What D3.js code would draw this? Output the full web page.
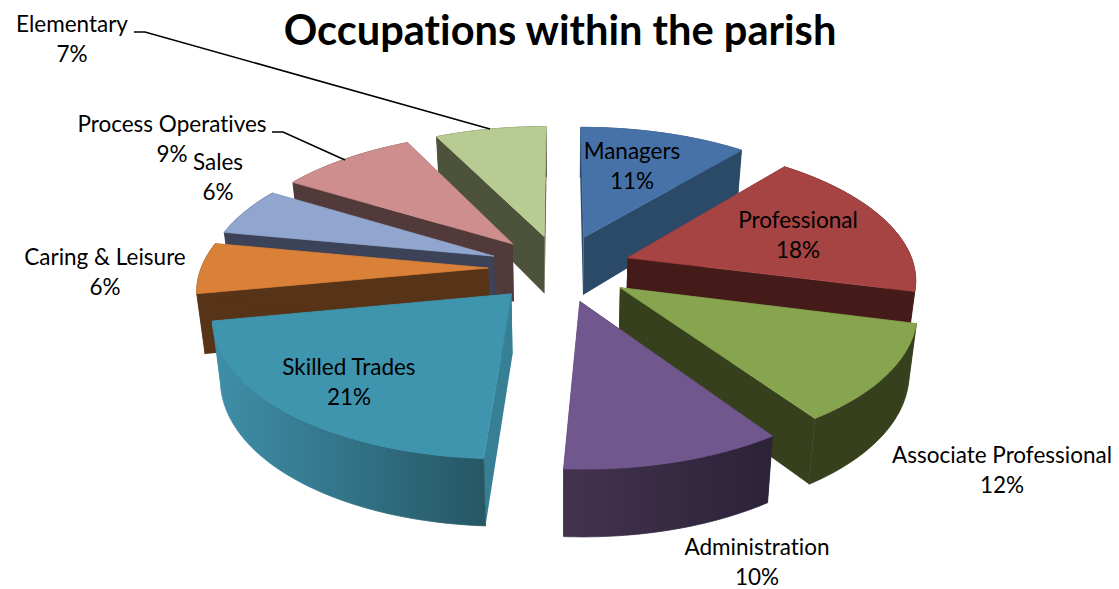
<!DOCTYPE html>
<html>
<head>
<meta charset="utf-8">
<script src="https://cdn.jsdelivr.net/npm/d3@7"></script>
<style>
  html, body { margin: 0; padding: 0; background: #fff; }
  text { font-family: Lato, "Open Sans", sans-serif; fill: #000; font-variant-ligatures: none; }
</style>
</head>
<body>
<svg id="chart" width="1119" height="589"></svg>
<script>
var categories = ['Managers', 'Professional', 'Associate Professional', 'Administration',
  'Skilled Trades', 'Caring & Leisure', 'Sales', 'Process Operatives', 'Elementary'];
// labels show them rounded
var values = [11, 18, 11.5, 10.4, 21.1, 6, 5.7, 9, 7.3];

var topColors = ['#4672a8', '#a54442', '#87a44e', '#70578e', '#3f94ae', '#d98039', '#90a6ce', '#cd8e8d', '#b8cb92'];
var sideColors = ['#2a4a68', '#451b1a', '#36401c', '#3f2f50', '#377f95', '#573418', '#3c4358', '#533a3a', '#4d533a'];
var wallLeftColors = ['#2a4a68', '#451b1a', '#36401c', '#44334f', '#3f8fa9', '#573418', '#3c4358', '#533a3a', '#4d533a'];
var wallRightColors = ['#2a4a68', '#451b1a', '#36401c', '#2b2238', '#265765', '#573418', '#3c4358', '#533a3a', '#4d533a'];

// label anchor for each category, same order
var labelX = [632, 798, 1002, 757, 349, 105, 218, 172, 72];
var labelY = [159, 228, 463, 555, 375, 265, 170, 132, 32];

var center = { x: 560, y: 268 },
  explode = 0.25,
  radiusX = 287,
  radiusY = 133.7,
  perspective = 0.141,
  depth = 59,
  depthGrow = 0.12,
  bottomShrink = 0.977;

var svg = d3.select('#chart'),
  defs = svg.append('defs'),
  pieGroup = svg.append('g'),
  labelGroup = svg.append('g');

var slices = d3.pie().sort(null).value(function(d) { return d.value; })(
  categories.map(function(name, i) { return { name: name, value: values[i], index: i }; })
);

// plane point of a slice (r 0 at the apex, 1 on the rim) through a simple perspective
function project(slice, angle, r, bottom) {
  var mid = (slice.startAngle + slice.endAngle) / 2,
    x = explode * Math.sin(mid) + r * Math.sin(angle),
    y = -explode * Math.cos(mid) - r * Math.cos(angle),
    s = 1 / (1 - perspective * y),
    px = radiusX * x * s,
    py = radiusY * y * s;
  if (bottom) {
    return [center.x + px * bottomShrink, center.y + py + depth * (1 + depthGrow * y)];
  }
  return [center.x + px, center.y + py];
}

function arcPoints(slice, bottom) {
  return d3.range(0, 41).map(function(k) {
    return project(slice, slice.startAngle + (slice.endAngle - slice.startAngle) * k / 40, 1, bottom);
  });
}

var line = d3.line().curve(d3.curveLinearClosed);

// back slices first
var ordered = slices.slice().sort(function(a, b) {
  return Math.cos((b.startAngle + b.endAngle) / 2) - Math.cos((a.startAngle + a.endAngle) / 2);
});

ordered.forEach(function(slice) {
  var i = slice.data.index,
    gradId = 'wall-' + i,
    top = arcPoints(slice, false),
    low = arcPoints(slice, true),
    apexTop = project(slice, 0, 0, false),
    apexLow = project(slice, 0, 0, true),
    xs = top.map(function(p) { return p[0]; }),
    gradient = defs.append('linearGradient')
      .attr('id', gradId)
      .attr('gradientUnits', 'userSpaceOnUse')
      .attr('x1', d3.min(xs)).attr('x2', d3.max(xs))
      .attr('y1', 0).attr('y2', 0);

  gradient.append('stop').attr('offset', 0).attr('stop-color', wallLeftColors[i]);
  gradient.append('stop').attr('offset', 1).attr('stop-color', wallRightColors[i]);

  var g = pieGroup.append('g').attr('class', 'slice');

  [0, top.length - 1].forEach(function(e) {
    g.append('path')
      .attr('d', line([apexTop, top[e], low[e], apexLow]))
      .attr('fill', sideColors[i]);
  });

  // stroke closes the seam against the radial walls
  g.append('path')
    .attr('d', line(top.concat(low.slice().reverse())))
    .attr('fill', 'url(#' + gradId + ')')
    .attr('stroke', 'url(#' + gradId + ')')
    .attr('stroke-width', 0.8);

  g.append('path')
    .attr('d', line([apexTop].concat(top)))
    .attr('fill', topColors[i])
    .attr('stroke', topColors[i])
    .attr('stroke-width', 0.8);
});

// leader lines
var leaders = [
  [[134, 32], [145, 32], [490, 129]],
  [[272, 132], [283, 132], [345, 160]]
];
svg.selectAll('.leader').data(leaders).enter().append('path')
  .attr('class', 'leader')
  .attr('d', d3.line())
  .attr('fill', 'none')
  .attr('stroke', '#000')
  .attr('stroke-width', 1.5);

var percent = d3.format('.0f');

slices.forEach(function(slice) {
  var i = slice.data.index,
    t = labelGroup.append('text')
      .attr('x', labelX[i])
      .attr('y', labelY[i])
      .attr('text-anchor', 'middle')
      .attr('font-size', 22.5);
  t.append('tspan').attr('x', labelX[i]).text(slice.data.name);
  t.append('tspan').attr('x', labelX[i]).attr('dy', 30).text(percent(slice.data.value) + '%');
});

svg.append('text')
  .attr('x', 560)
  .attr('y', 45)
  .attr('text-anchor', 'middle')
  .attr('font-size', 41.6)
  .attr('font-weight', 700)
  .text('Occupations within the parish');
</script>
</body>
</html>
